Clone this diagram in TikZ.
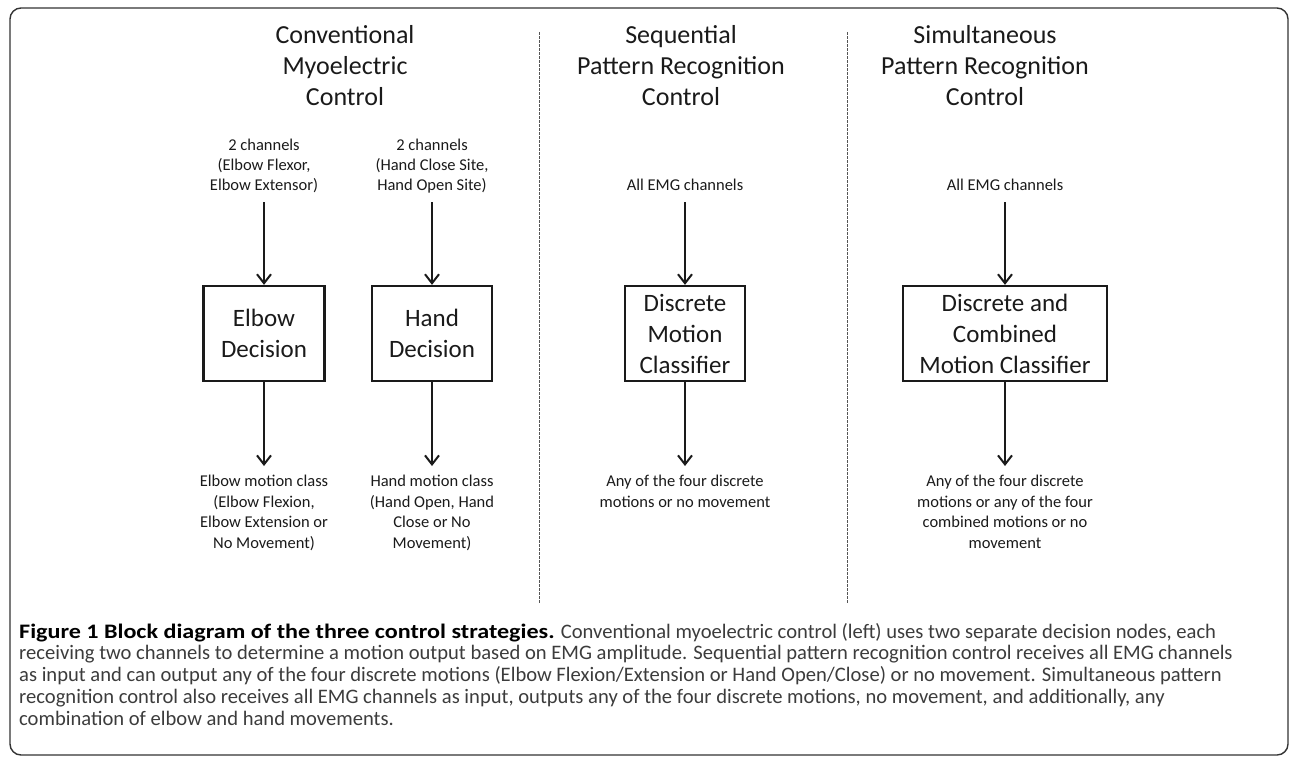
\documentclass[tikz,border=0pt]{standalone}
\usepackage{fontspec}
\setmainfont{Carlito}
\newfontfamily\capfont{Carlito}
\newfontfamily\capboldfont{Carlito}[FakeStretch=1.17]
\usetikzlibrary{arrows.meta}
\definecolor{ink}{HTML}{1A1A1A}
\definecolor{capink}{HTML}{3C3C3C}
\definecolor{rule}{HTML}{333333}
\definecolor{dashc}{HTML}{555555}
\tikzset{
  titletext/.style={anchor=base, align=center, inner sep=0pt, text=ink,
    font=\fontsize{26}{31}\selectfont},
  intext/.style={anchor=base, align=center, inner sep=6pt, text=ink,
    font=\fontsize{16.5}{20}\selectfont},
  outtext/.style={anchor=north, align=center, inner sep=6pt, text=ink,
    font=\fontsize{16.5}{20.5}\selectfont},
  blockbox/.style={draw=ink, line width=2.3pt, align=center, text=ink,
    minimum height=95pt, inner sep=0pt,
    font=\fontsize{25}{31}\selectfont},
  arr/.style={line width=2pt, draw=ink, -{Straight Barb[length=9pt,width=14pt,line width=2pt]}},
  divider/.style={draw=dashc, line width=0.8pt, dash pattern=on 2.5pt off 1.5pt},
}
\begin{document}
\begin{tikzpicture}[x=1pt,y=-1pt]
\useasboundingbox (0,0) rectangle (1290,756);
% outer frame
\draw[rule, line width=1.4pt, rounded corners=11pt] (10,8) rectangle (1288,755);
% dividers
\coordinate (d1t) at (539,32); \coordinate (d1b) at (539,603);
\coordinate (d2t) at (847,32); \coordinate (d2b) at (847,603);
\draw[divider] (d1t) -- (d1b);
\draw[divider] (d2t) -- (d2b);
% titles (base = last line)
\node[titletext] (t1) at (345,105) {Conventional\\Myoelectric\\Control};
\node[titletext] (t2) at (681,105) {Sequential\\Pattern Recognition\\Control};
\node[titletext] (t3) at (985,105) {Simultaneous\\Pattern Recognition\\Control};
% inputs (base = last line)
\node[intext] (in1) at (264,190) {2 channels\\(Elbow Flexor,\\Elbow Extensor)\strut};
\node[intext] (in2) at (432,190) {2 channels\\(Hand Close Site,\\Hand Open Site)\strut};
\node[intext] (in3) at (685,190) {All EMG channels\strut};
\node[intext] (in4) at (1005,190) {All EMG channels\strut};
% blocks
\node[blockbox, minimum width=121pt] (b1) at (264,333.5) {Elbow\\Decision};
\node[blockbox, minimum width=120pt] (b2) at (432,333.5) {Hand\\Decision};
\node[blockbox, minimum width=120pt] (b3) at (685,333.5) {Discrete\\Motion\\Classifier};
\node[blockbox, minimum width=204pt] (b4) at (1005,333.5) {Discrete and\\Combined\\Motion Classifier};
% outputs
\node[outtext] (o1) at (264,466) {\strut Elbow motion class\\(Elbow Flexion,\\Elbow Extension or\\No Movement)};
\node[outtext] (o2) at (432,466) {\strut Hand motion class\\(Hand Open, Hand\\Close or No\\Movement)};
\node[outtext] (o3) at (685,466) {\strut Any of the four discrete\\motions or no movement};
\node[outtext] (o4) at (1005,466) {\strut Any of the four discrete\\motions or any of the four\\combined motions or no\\movement};
% connectors
\draw[arr] (in1) -- (b1);
\draw[arr] (in2) -- (b2);
\draw[arr] (in3) -- (b3);
\draw[arr] (in4) -- (b4);
\draw[arr] (b1) -- (o1);
\draw[arr] (b2) -- (o2);
\draw[arr] (b3) -- (o3);
\draw[arr] (b4) -- (o4);
% caption (base = last line)
\node[anchor=base west, align=left, inner sep=0pt, text=capink,
  font=\capfont\fontsize{20.6}{21.7}\selectfont] (cap) at (19,725)
  {{\capboldfont\bfseries\color{black}Figure 1 Block diagram of the three control strategies.} Conventional myoelectric control (left) uses two separate decision nodes, each\\
   receiving two channels to determine a motion output based on EMG amplitude. Sequential pattern recognition control receives all EMG channels\\
   as input and can output any of the four discrete motions (Elbow Flexion/Extension or Hand Open/Close) or no movement. Simultaneous pattern\\
   recognition control also receives all EMG channels as input, outputs any of the four discrete motions, no movement, and additionally, any\\
   combination of elbow and hand movements.};
\end{tikzpicture}
\end{document}
